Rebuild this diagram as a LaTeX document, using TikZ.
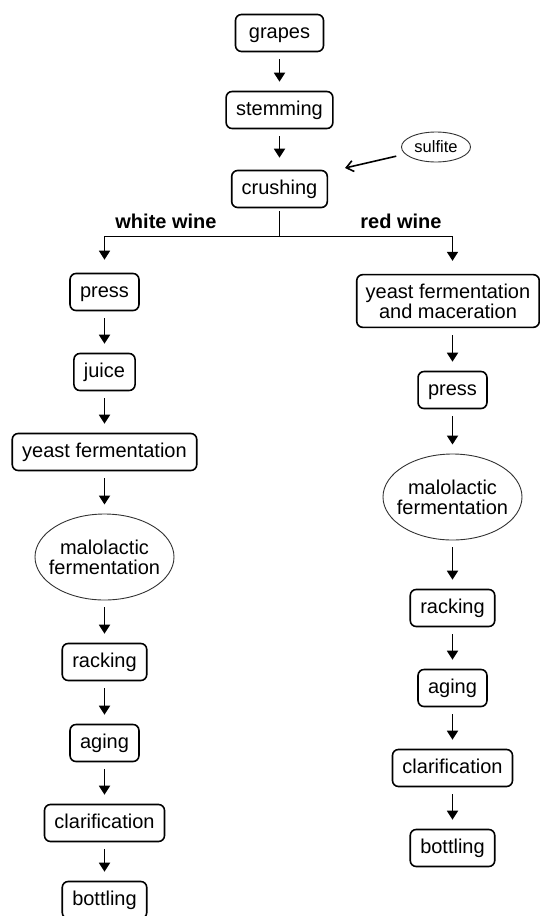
\documentclass[tikz,border=0pt]{standalone}
\usepackage{fontspec}
\setmainfont{Liberation Sans}
\usetikzlibrary{shapes.geometric,arrows.meta}
\begin{document}
\begin{tikzpicture}[x=1pt,y=-1pt,
  box/.style={draw,line width=1.6pt,rounded corners=6pt,font=\fontsize{20}{20}\selectfont,
    inner xsep=10pt,inner ysep=9.5pt,text height=14pt,text depth=4pt,align=center},
  box2/.style={draw,line width=1.6pt,rounded corners=6pt,font=\fontsize{20}{20}\selectfont,
    inner xsep=9pt,inner ysep=9pt,align=center},
  oval/.style={ellipse,draw=black!80,line width=0.9pt,font=\fontsize{20}{20}\selectfont,
    align=center,inner xsep=-12pt,inner ysep=0pt,minimum width=139pt,minimum height=86pt},
  arr/.style={line width=1.8pt,-{Triangle[width=11pt,length=9pt]},shorten <=7pt,shorten >=9pt},
  lab/.style={font=\fontsize{20}{20}\selectfont\bfseries}
]
\useasboundingbox (0,0) rectangle (540,916);
% top chain
\node[box,minimum width=88pt] (grapes) at (279.5,33) {grapes};
\node[box] (stemming) at (279.5,110) {stemming};
\node[box] (crushing) at (279.5,189) {crushing};
\node[ellipse,draw=black!80,line width=0.9pt,font=\fontsize{16.5}{16.5}\selectfont,inner xsep=-2pt,inner ysep=0pt,
  minimum width=69pt,minimum height=30pt] (sulfite) at (436,147) {sulfite};
\coordinate (sulfTip) at (345,168);
\draw[arr] (grapes) -- (stemming);
\draw[arr,shorten >=12pt] (stemming) -- (crushing);
\draw[line width=1.6pt,-{Straight Barb[length=7pt,width=11pt]},shorten <=9pt] (sulfite) -- (sulfTip);
% branch
\coordinate (split) at (279.5,236.5);
\node[lab] (white) at (166,221) {white wine};
\node[lab] (red) at (401,221) {red wine};
% white column
\node[box] (wpress) at (104.5,292) {press};
\node[box] (wjuice) at (104.5,372) {juice};
\node[box] (wyeast) at (104.5,452) {yeast fermentation};
\node[oval] (wmalo) at (104.5,557) {malolactic\\fermentation};
\node[box] (wrack) at (104.5,662) {racking};
\node[box] (waging) at (104.5,743) {aging};
\node[box] (wclar) at (104.5,823) {clarification};
\node[box] (wbott) at (104.5,900) {bottling};
% red column
\node[box2] (ryeast) at (448,301) {yeast fermentation\\and maceration};
\coordinate (rcol) at (452.5,330);
\node[box] (rpress) at (452.5,390) {press};
\node[oval] (rmalo) at (452.5,497) {malolactic\\fermentation};
\node[box] (rrack) at (452.5,608) {racking};
\node[box] (raging) at (452.5,688) {aging};
\node[box] (rclar) at (452.5,768) {clarification};
\node[box] (rbott) at (452.5,848) {bottling};
% branch lines
\draw[line width=1.6pt,shorten <=3pt] (crushing) -- (split);
\draw[line width=1.6pt,-{Triangle[width=11pt,length=9pt]},shorten >=13pt] (split) -| (wpress.north);
\draw[line width=1.6pt,-{Triangle[width=11pt,length=9pt]},shorten >=13pt] (split) -| (rcol |- ryeast.north);
% white arrows
\draw[arr] (wpress) -- (wjuice);
\draw[arr] (wjuice) -- (wyeast);
\draw[arr] (wyeast) -- (wmalo);
\draw[arr] (wmalo) -- (wrack);
\draw[arr] (wrack) -- (waging);
\draw[arr] (waging) -- (wclar);
\draw[arr] (wclar) -- (wbott);
% red arrows
\draw[arr] (rcol |- ryeast.south) -- (rpress);
\draw[arr] (rpress) -- (rmalo);
\draw[arr] (rmalo) -- (rrack);
\draw[arr] (rrack) -- (raging);
\draw[arr] (raging) -- (rclar);
\draw[arr] (rclar) -- (rbott);
\end{tikzpicture}
\end{document}
